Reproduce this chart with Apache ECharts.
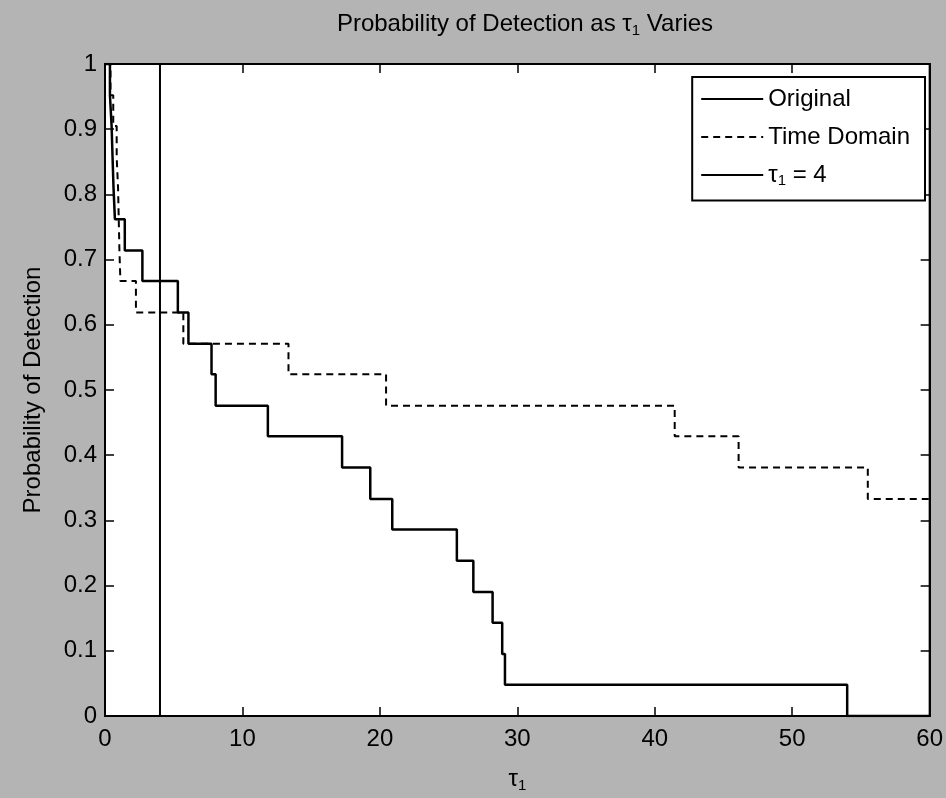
<!DOCTYPE html>
<html>
<head>
<meta charset="utf-8">
<script src="https://cdn.jsdelivr.net/npm/echarts@6/dist/echarts.min.js"></script>
<style>
  html, body { margin: 0; padding: 0; background: #b4b4b4; }
  #chart { width: 946px; height: 798px; }
</style>
</head>
<body>
<div id="chart"></div>
<script>
// ---- data ----
const xTickValues = [0, 10, 20, 30, 40, 50, 60];
const yTickLabels = ['0', '0.1', '0.2', '0.3', '0.4', '0.5', '0.6', '0.7', '0.8', '0.9', '1'];

// "Original" step curve: x where the value changes, new value
const origX = [0, 0.36, 0.48, 0.55, 0.62, 0.72, 1.44, 2.72, 5.3, 6.07, 7.75, 8.05, 11.85, 17.25, 19.3, 20.9, 25.6, 26.8, 28.2, 28.9, 29.1, 54.0, 60];
const origY = [1, 0.952, 0.905, 0.857, 0.81, 0.762, 0.714, 0.667, 0.619, 0.571, 0.524, 0.476, 0.429, 0.381, 0.333, 0.286, 0.238, 0.19, 0.143, 0.095, 0.048, 0, 0];

// "Time Domain" step curve
const timeX = [0, 0.4, 0.6, 0.85, 0.95, 1.0, 1.05, 1.12, 2.25, 5.7, 13.35, 20.45, 41.45, 46.1, 55.5, 60];
const timeY = [1, 0.952, 0.905, 0.857, 0.81, 0.762, 0.714, 0.667, 0.619, 0.571, 0.524, 0.476, 0.429, 0.381, 0.333, 0.333];

// vertical marker tau1 = 4
const tauX = [4, 4];
const tauY = [0, 1];

const seriesNames = ['Original', 'Time Domain', 'tau'];

const zip = (xs, ys) => xs.map((x, i) => [x, ys[i]]);

const FONT = '"Liberation Sans", Arial, sans-serif';
const subRich = {
  sub: { fontSize: 15, fontFamily: FONT, color: '#000', padding: [12, 0, 0, 0] },
  main: { fontSize: 24, fontFamily: FONT, color: '#000' }
};

const chart = echarts.init(document.getElementById('chart'), null, { renderer: 'canvas' });

const tickCommon = { show: true, inside: true, length: 9, lineStyle: { color: '#000', width: 1.5 } };
const lineCommon = { show: true, onZero: false, lineStyle: { color: '#000', width: 2 } };

chart.setOption({
  backgroundColor: '#b4b4b4',
  animation: false,
  title: {
    text: '{main|Probability of Detection as τ}{sub|1}{main| Varies}',
    left: 520,
    top: 6,
    textAlign: 'center',
    textStyle: { fontSize: 24, fontFamily: FONT, fontWeight: 'normal', color: '#000', rich: subRich }
  },
  grid: {
    left: 105, right: 10, top: 64, bottom: 78,
    show: true, backgroundColor: '#ffffff', borderColor: '#000', borderWidth: 2
  },
  legend: {
    orient: 'vertical',
    right: 21,
    top: 77,
    data: seriesNames,
    itemWidth: 62,
    itemHeight: 20,
    itemGap: 14,
    padding: [10, 15, 12, 8],
    backgroundColor: '#ffffff',
    borderColor: '#000',
    borderWidth: 2,
    borderRadius: 0,
    itemStyle: { color: 'rgba(0,0,0,0)', borderColor: 'rgba(0,0,0,0)', borderWidth: 0, opacity: 0 },
    lineStyle: { color: '#000', width: 2 },
    textStyle: { fontSize: 24, fontFamily: FONT, color: '#000', lineHeight: 24, rich: subRich },
    formatter: function (name) {
      if (name === 'tau') return '{main|τ}{sub|1}{main| = 4}';
      return name;
    }
  },
  xAxis: [
    {
      type: 'value', position: 'bottom', min: 0, max: 60, interval: 10,
      axisLine: lineCommon, axisTick: tickCommon, splitLine: { show: false },
      axisLabel: {
        margin: 11, fontSize: 24, fontFamily: FONT, color: '#000',
        formatter: v => (xTickValues.indexOf(v) >= 0 ? String(v) : '')
      },
      name: '{main|τ}{sub|1}',
      nameLocation: 'middle', nameGap: 50,
      nameTextStyle: { fontSize: 24, fontFamily: FONT, color: '#000', rich: subRich }
    },
    {
      type: 'value', position: 'top', min: 0, max: 60, interval: 10,
      axisLine: lineCommon, axisTick: tickCommon, splitLine: { show: false },
      axisLabel: { show: false }
    }
  ],
  yAxis: [
    {
      type: 'value', position: 'left', min: 0, max: 1, interval: 0.1,
      axisLine: lineCommon, axisTick: tickCommon, splitLine: { show: false },
      axisLabel: {
        margin: 8, fontSize: 24, fontFamily: FONT, color: '#000',
        formatter: v => yTickLabels[Math.round(v * 10)]
      },
      name: 'Probability of Detection',
      nameLocation: 'middle', nameGap: 60,
      nameTextStyle: { fontSize: 24, fontFamily: FONT, color: '#000' }
    },
    {
      type: 'value', position: 'right', min: 0, max: 1, interval: 0.1,
      axisLine: lineCommon, axisTick: tickCommon, splitLine: { show: false },
      axisLabel: { show: false }
    }
  ],
  series: [
    {
      name: 'Original', type: 'line', step: 'end', xAxisIndex: 0, yAxisIndex: 0,
      data: zip(origX, origY), symbol: 'none', showSymbol: false,
      lineStyle: { color: '#000', width: 2.5, type: 'solid' },
      itemStyle: { color: '#000' }, z: 3
    },
    {
      name: 'Time Domain', type: 'line', step: 'end', xAxisIndex: 0, yAxisIndex: 0,
      data: zip(timeX, timeY), symbol: 'none', showSymbol: false,
      lineStyle: { color: '#000', width: 2, type: [7, 5] },
      itemStyle: { color: '#000' }, z: 2
    },
    {
      name: 'tau', type: 'line', xAxisIndex: 0, yAxisIndex: 0,
      data: zip(tauX, tauY), symbol: 'none', showSymbol: false,
      lineStyle: { color: '#000', width: 2, type: 'solid' },
      itemStyle: { color: '#000' }, z: 2
    }
  ]
});
</script>
</body>
</html>
